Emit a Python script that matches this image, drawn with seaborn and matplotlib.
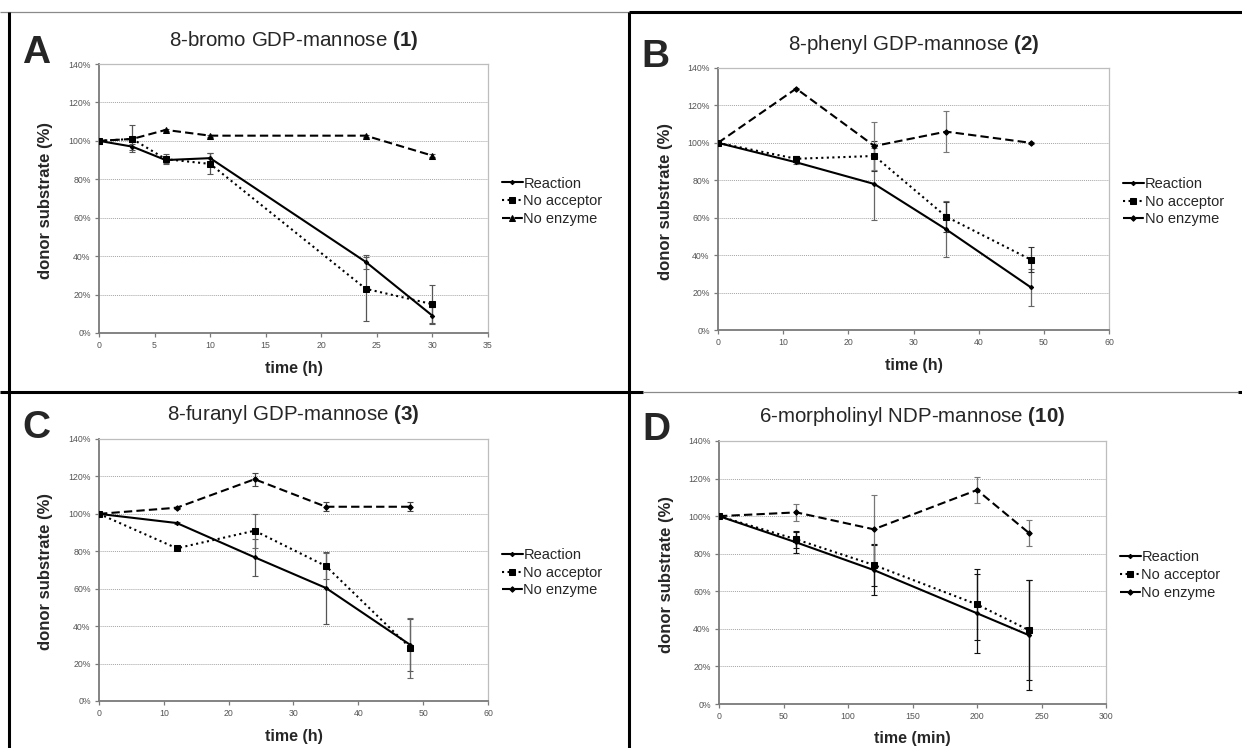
import numpy as np
import matplotlib
matplotlib.use('Agg')
import matplotlib.pyplot as plt
import seaborn as sns
from matplotlib.ticker import PercentFormatter, MultipleLocator
from matplotlib.lines import Line2D

# A - 8-bromo GDP-mannose (1)
a_time = [0, 3, 6, 10, 24, 30]
a_reaction = [100, 97, 90, 91, 37, 9]
a_reaction_err = [0, 1.5, 1.5, 2.5, 3.5, 4.5]
a_noacc = [100, 101, 90.5, 88, 23, 15]
a_noacc_err = [0, 7, 2.5, 5.5, 16.5, 10]
a_noenz = [100, 101, 105.7, 102.7, 102.7, 92.3]
a_noenz_err = [0, 0, 0.6, 0.6, 0.6, 0.6]

# B - 8-phenyl GDP-mannose (2)
b_time = [0, 12, 24, 35, 48]
b_reaction = [100, 89.6, 78, 53.8, 22.8]
b_reaction_err = [0, 1, 19, 15, 10]
b_noacc = [100, 91.5, 93, 60.6, 37.6]
b_noacc_err = [0, 1.5, 8, 8, 6.5]
b_noenz = [100, 129, 98.3, 106, 100]
b_noenz_err = [0, 0.5, 13, 11, 0.5]

# C - 8-furanyl GDP-mannose (3)
c_time = [0, 12, 24, 35, 48]
c_reaction = [100, 95.1, 76.8, 60.4, 30]
c_reaction_err = [0, 0.5, 10, 19, 14]
c_noacc = [100, 81.6, 91, 72.1, 28.5]
c_noacc_err = [0, 1, 9, 7, 16]
c_noenz = [100, 103.3, 118.5, 103.8, 103.8]
c_noenz_err = [0, 0.5, 3.5, 2.5, 2.5]

# D - 6-morpholinyl NDP-mannose (10)
d_time = [0, 60, 120, 200, 240]
d_reaction = [100, 86, 71.3, 48.3, 36.7]
d_reaction_err = [0, 5.5, 13.5, 21, 29.5]
d_noacc = [100, 87.6, 74, 53, 39.4]
d_noacc_err = [0, 4.5, 11, 19, 26.5]
d_noenz = [100, 102, 93, 113.9, 91.2]
d_noenz_err = [0, 4.5, 18, 7, 7]

series_names = ['Reaction', 'No acceptor', 'No enzyme']

W, H = 1242, 748

def fx(x):
    return x / W

def fy(y):
    return 1 - y / H

sns.set_style('white')
plt.rcParams['font.family'] = ['Liberation Sans', 'DejaVu Sans']
plt.rcParams['mathtext.fontset'] = 'custom'
plt.rcParams['mathtext.rm'] = 'Liberation Sans'
plt.rcParams['mathtext.bf'] = 'Liberation Sans:bold'

fig = plt.figure(figsize=(12.42, 7.48), dpi=100)

# letter, title, bold part, xlabel, time, data, xmax, xstep, axes box (px), enzyme marker, error colours
panels = [
    ('A', '8-bromo GDP-mannose', '(1)', 'time (h)', a_time,
     [(a_reaction, a_reaction_err), (a_noacc, a_noacc_err), (a_noenz, a_noenz_err)],
     35, 5, (99, 64, 488, 333), '^', ['#555555', '#555555', '#555555']),
    ('B', '8-phenyl GDP-mannose', '(2)', 'time (h)', b_time,
     [(b_reaction, b_reaction_err), (b_noacc, b_noacc_err), (b_noenz, b_noenz_err)],
     60, 10, (718, 68, 1109, 330), 'D', ['#666666', '#333333', '#777777']),
    ('C', '8-furanyl GDP-mannose', '(3)', 'time (h)', c_time,
     [(c_reaction, c_reaction_err), (c_noacc, c_noacc_err), (c_noenz, c_noenz_err)],
     60, 10, (99, 439, 488, 701), 'D', ['#555555', '#666666', '#444444']),
    ('D', '6-morpholinyl NDP-mannose', '(10)', 'time (min)', d_time,
     [(d_reaction, d_reaction_err), (d_noacc, d_noacc_err), (d_noenz, d_noenz_err)],
     300, 50, (719, 441, 1106, 704), 'D', ['#111111', '#111111', '#777777']),
]

styles = [('-', 'D', 2.2), (':', 's', 4.2), ((0, (4, 2)), None, 4.0)]

for letter, title, num, xlabel, t, data, xmax, xstep, box, enz_marker, ecolors in panels:
    x0, y0, x1, y1 = box
    ax = fig.add_axes([fx(x0), fy(y1), (x1 - x0) / W, (y1 - y0) / H])
    for (ys, errs), name, (ls, mk, ms), ec in zip(data, series_names, styles, ecolors):
        if mk is None:
            mk = enz_marker
            if mk == 'D':
                ms = 2.8
        idx = [i for i, e in enumerate(errs) if e > 0]
        ax.errorbar([t[i] for i in idx], [ys[i] for i in idx], yerr=[errs[i] for i in idx],
                    fmt='none', ecolor=ec, elinewidth=0.9, capsize=2, capthick=0.8, zorder=2)
        sns.lineplot(x=t, y=ys, ax=ax, color='black', linestyle=ls, linewidth=1.5,
                     marker=mk, markersize=ms, markerfacecolor='black',
                     markeredgecolor='black', label=name, errorbar=None, sort=False, zorder=3)

    ax.set_xlim(0, xmax)
    ax.set_ylim(0, 140)
    ax.xaxis.set_major_locator(MultipleLocator(xstep))
    ax.yaxis.set_major_locator(MultipleLocator(20))
    ax.yaxis.set_major_formatter(PercentFormatter(decimals=0))
    ax.grid(axis='y', color='#a5a5a5', linestyle=(0, (1, 1)), linewidth=0.7)
    ax.set_axisbelow(True)
    for s in ['left', 'bottom']:
        ax.spines[s].set_color('#7a7a7a')
        ax.spines[s].set_linewidth(1.3)
    for s in ['top', 'right']:
        ax.spines[s].set_color('#bdbdbd')
        ax.spines[s].set_linewidth(0.9)
    ax.tick_params(axis='both', direction='out', length=3, width=0.9, color='#7a7a7a',
                   labelsize=6.3, labelcolor='#555555', pad=3, left=True, bottom=True)
    ax.set_xlabel('')
    ax.set_ylabel('')
    ax.legend(loc='center left', bbox_to_anchor=(1.02, 0.49), frameon=False, fontsize=10.5,
              handlelength=1.45, handletextpad=0.05, labelspacing=0.25, borderaxespad=0)

    cx = (x0 + x1) / 2
    fig.text(fx(cx), fy(y0 - 24), title + r' $\mathbf{' + num + '}$', ha='center', va='center',
             fontsize=14.8)
    fig.text(fx(cx), fy(y1 + 35), xlabel, ha='center', va='center', fontsize=11.5,
             fontweight='bold')
    fig.text(fx(x0 - 53), fy((y0 + y1) / 2 + 2), 'donor substrate (%)', rotation=90,
             ha='center', va='center', fontsize=12, fontweight='bold')
    fig.text(fx(x0 - 63), fy(y0 - 11), letter, ha='center', va='center', fontsize=28,
             fontweight='bold')

# panel borders
def border(xs, ys, color='black', lw=2.2):
    fig.add_artist(Line2D([fx(v) for v in xs], [fy(v) for v in ys], color=color, lw=lw,
                          solid_capstyle='butt'))

border([0, 629], [12, 12], color='#8a8a8a', lw=0.9)
border([629, 1242], [12, 12])
border([9, 9], [12, 748])
border([629, 629], [12, 748])
border([0, 643], [392, 392])
border([643, 1238], [392, 392], color='#8a8a8a', lw=0.9)
border([1238, 1242], [392, 392])

fig.savefig('out.png', dpi=100)
